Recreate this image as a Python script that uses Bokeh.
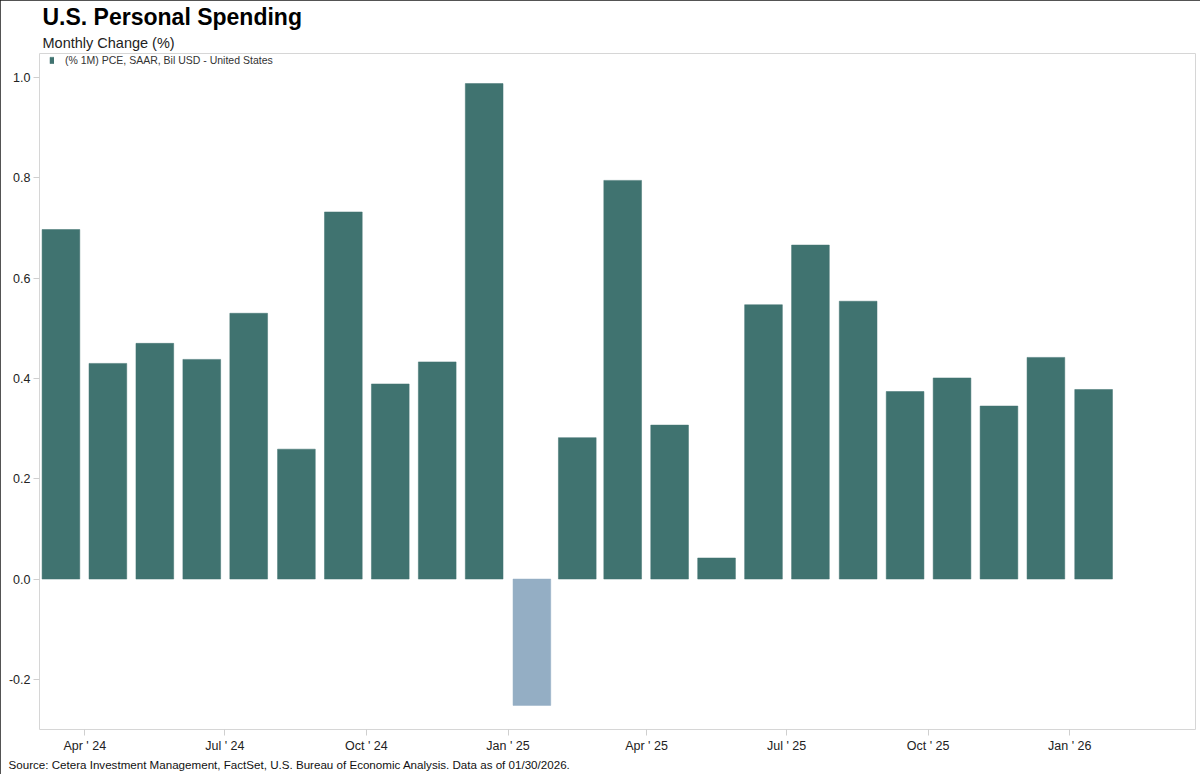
import numpy as np
import pandas as pd
from bokeh.plotting import figure
from bokeh.models import (ColumnDataSource, Range1d, FixedTicker, PrintfTickFormatter,
                          Title, Legend, LegendItem)
from bokeh.embed import file_html
from bokeh.resources import INLINE

# ---------------- data ----------------
months = ["2024-03", "2024-04", "2024-05", "2024-06", "2024-07", "2024-08", "2024-09",
          "2024-10", "2024-11", "2024-12", "2025-01", "2025-02", "2025-03", "2025-04",
          "2025-05", "2025-06", "2025-07", "2025-08", "2025-09", "2025-10", "2025-11",
          "2025-12", "2026-01"]
pce_change = [0.697, 0.430, 0.470, 0.438, 0.530, 0.259, 0.732, 0.389, 0.433, 0.988,
              -0.252, 0.282, 0.795, 0.307, 0.042, 0.547, 0.666, 0.554, 0.374, 0.401,
              0.345, 0.442, 0.378]
tick_dates = ["2024-04-01", "2024-07-01", "2024-10-01", "2025-01-01",
              "2025-04-01", "2025-07-01", "2025-10-01", "2026-01-01"]
tick_labels = ["Apr ' 24", "Jul ' 24", "Oct ' 24", "Jan ' 25",
               "Apr ' 25", "Jul ' 25", "Oct ' 25", "Jan ' 26"]
y_ticks = [-0.2, 0.0, 0.2, 0.4, 0.6, 0.8, 1.0]
series_name = "(% 1M) PCE, SAAR, Bil USD - United States"
title_text = "U.S. Personal Spending"
subtitle_text = "Monthly Change (%)"
source_text = ("Source: Cetera Investment Management, FactSet, U.S. Bureau of Economic "
               "Analysis. Data as of 01/30/2026.")

POS_COLOR = "#407370"
NEG_COLOR = "#94aec4"
FONT = "Liberation Sans"

DAY_MS = 86400000.0


def to_ms(ts):
    return float(pd.Timestamp(ts).value // 10**6)


starts = pd.to_datetime(months, format="%Y-%m")
centers = [to_ms(s) + (s.days_in_month / 2.0) * DAY_MS for s in starts]
colors = [POS_COLOR if v >= 0 else NEG_COLOR for v in pce_change]

src = ColumnDataSource(dict(x=centers, top=pce_change, color=colors, month=months))

tick_ms = [to_ms(d) for d in tick_dates]
anchor = to_ms("2024-04-01")
x_start = anchor - 29.43 * DAY_MS
x_end = anchor + 721.7 * DAY_MS

p = figure(width=1200, height=774, output_backend="svg", toolbar_location=None,
           x_range=Range1d(x_start, x_end), y_range=Range1d(-0.3, 1.048),
           title=None, min_border_left=39, min_border_right=5,
           min_border_top=0, min_border_bottom=45,
           background_fill_color="white", border_fill_color="white")
p.styles = {"outline": "2px solid #1a1a1a", "outline-offset": "-2px"}

r = p.vbar(x="x", top="top", bottom=0, width=24.5 * DAY_MS, source=src,
           fill_color="color", line_color="color", line_width=0.5)

p.xgrid.visible = False
p.ygrid.visible = False
p.outline_line_color = "#d6d6d6"
p.outline_line_width = 1

# y axis
p.yaxis.ticker = FixedTicker(ticks=y_ticks)
p.yaxis.formatter = PrintfTickFormatter(format="%.1f")
# x axis
p.xaxis.ticker = FixedTicker(ticks=tick_ms)
p.xaxis.major_label_overrides = {t: l for t, l in zip(tick_ms, tick_labels)}

for ax in (p.xaxis[0], p.yaxis[0]):
    ax.axis_line_color = None
    ax.major_tick_line_color = "#cfcfcf"
    ax.major_tick_in = 0
    ax.major_tick_out = 6
    ax.minor_tick_line_color = None
    ax.major_label_text_font = FONT
    ax.major_label_text_font_size = "12.5px"
    ax.major_label_text_color = "#222222"
p.yaxis.major_label_standoff = 3
p.xaxis.major_label_standoff = 3

# titles
sub = Title(text=subtitle_text, text_font=FONT, text_font_size="14.5px",
            text_font_style="normal", text_color="#222222", align="left",
            offset=3, standoff=5)
main = Title(text=title_text, text_font=FONT, text_font_size="23px",
             text_font_style="bold", text_color="#000000", align="left",
             offset=3, standoff=2)
p.add_layout(sub, "above")
p.add_layout(main, "above")

src_title = Title(text=source_text, text_font=FONT, text_font_size="11.6px",
                  text_font_style="normal", text_color="#111111", align="left",
                  offset=-31, standoff=0)
p.add_layout(src_title, "below")

legend = Legend(items=[LegendItem(label=series_name, renderers=[r], index=0)],
                location=(10, 663), orientation="vertical",
                border_line_color=None, background_fill_alpha=0,
                label_text_font=FONT, label_text_font_size="10.5px",
                label_text_color="#333333", glyph_width=5, glyph_height=8,
                label_standoff=11, padding=0, spacing=0, margin=0, label_height=12)
p.add_layout(legend)

open("out.html", "w").write(file_html(p, INLINE))
